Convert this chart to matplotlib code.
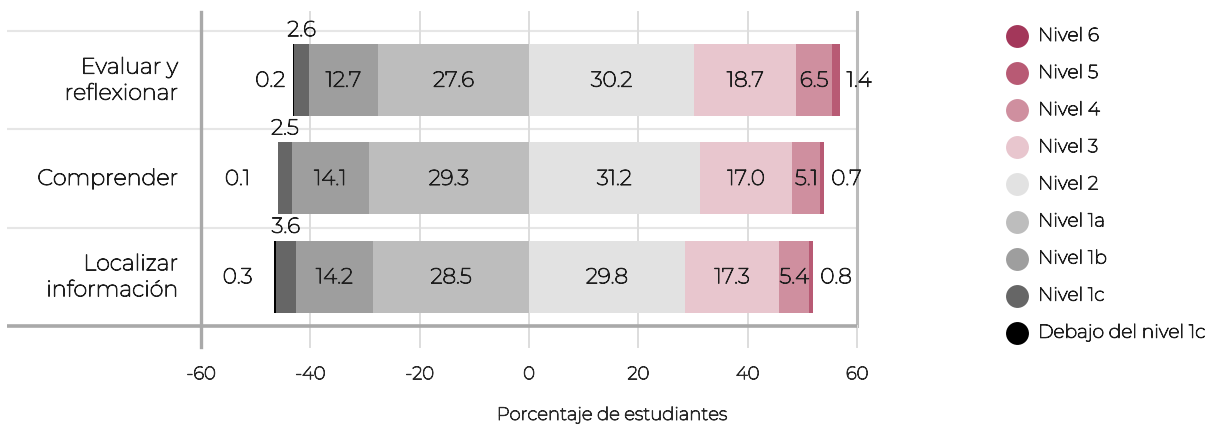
import os
import matplotlib
matplotlib.use("Agg")
import matplotlib.pyplot as plt
from matplotlib import font_manager
import matplotlib.patheffects as pe

# ---------------- data ----------------
categories = ["Evaluar y\nreflexionar", "Comprender", "Localizar\ninformación"]
debajo_1c = [0.2, 0.1, 0.3]
nivel_1c = [2.6, 2.5, 3.6]
nivel_1b = [12.7, 14.1, 14.2]
nivel_1a = [27.6, 29.3, 28.5]
nivel_2 = [30.2, 31.2, 28.5]          # bar length as drawn in the reference
nivel_2_labels = ["30.2", "31.2", "29.8"]  # printed values
nivel_3 = [18.7, 17.0, 17.3]
nivel_4 = [6.5, 5.1, 5.4]
nivel_5 = [1.4, 0.7, 0.8]
nivel_6 = [0.0, 0.0, 0.0]
xticks = [-60, -40, -20, 0, 20, 40, 60]
legend_labels = ["Nivel 6", "Nivel 5", "Nivel 4", "Nivel 3", "Nivel 2",
                 "Nivel 1a", "Nivel 1b", "Nivel 1c", "Debajo del nivel 1c"]

# ---------------- style ----------------
colors = {
    "n6": "#a3375a", "n5": "#b85a74", "n4": "#cf8f9f", "n3": "#e8c6ce",
    "n2": "#e2e2e2", "n1a": "#bdbdbd", "n1b": "#9e9e9e", "n1c": "#666666",
    "d1c": "#000000",
}
legend_colors = [colors[k] for k in ["n6", "n5", "n4", "n3", "n2", "n1a", "n1b", "n1c", "d1c"]]

TXT = "#1e1e1e"
GRY = "#2a2a2a"
entries = [f for f in font_manager.fontManager.ttflist if f.name == "Montserrat"]
regular = [f.fname for f in entries
           if "regular" in os.path.basename(f.fname).lower() and "italic" not in os.path.basename(f.fname).lower()
           and "[" not in os.path.basename(f.fname)]
FP = None
thicken = False
if regular:
    FP = regular[0]
elif entries:
    plt.rcParams["font.family"] = ["Montserrat", "DejaVu Sans"]
    thicken = True
else:
    plt.rcParams["font.family"] = ["DejaVu Sans"]


def tkw(color=TXT):
    kw = {}
    if FP:
        kw["fontproperties"] = font_manager.FontProperties(fname=FP)
    if thicken:
        kw["path_effects"] = [pe.withStroke(linewidth=0.7, foreground=color)]
    return kw


W, H = 1211, 425
fig = plt.figure(figsize=(W / 100, H / 100), dpi=100)
ax_left, ax_right, ax_top, ax_bottom = 7, 857, 10, 326
ax = fig.add_axes([ax_left / W, (H - ax_bottom) / H, (ax_right - ax_left) / W, (ax_bottom - ax_top) / H])

px_per_unit = 656 / 120.0
xmax = 60
xmin = xmax - (ax_right - ax_left) / px_per_unit
band_px = (ax_bottom - 31) / 3.0
ytop = 2.5 - (ax_bottom - ax_top) / band_px
ax.set_xlim(xmin, xmax)
ax.set_ylim(2.5, ytop)
for s in ax.spines.values():
    s.set_visible(False)
ax.set_yticks([])

ypos = list(range(len(categories)))
bh = 72 / band_px
tick_ext = 21 / band_px

# grid lines
for y in [-0.5, 0.5, 1.5]:
    ax.plot([xmin, xmax], [y, y], color="#e6e6e6", lw=1.5, zorder=0, solid_capstyle="butt")
for x in xticks:
    if x == -60:
        ax.plot([x, x], [ytop + 2 / band_px, 2.5 + tick_ext], color="#a9a9a9", lw=2.4, zorder=3, clip_on=False)
    elif x == 60:
        ax.plot([x, x], [ytop + 2 / band_px, 2.5], color="#bbbbbb", lw=2.2, zorder=3, clip_on=False)
        ax.plot([x, x], [2.5, 2.5 + tick_ext], color="#dddddd", lw=1.4, zorder=3, clip_on=False)
    else:
        ax.plot([x, x], [ytop + 2 / band_px, 2.5 + tick_ext], color="#dddddd", lw=1.4, zorder=0, clip_on=False)
ax.plot([xmin, xmax], [2.5, 2.5], color="#a9a9a9", lw=2.6, zorder=3, clip_on=False, solid_capstyle="butt")

# x tick labels
ax.set_xticks(xticks)
ax.set_xticklabels([str(t) for t in xticks], fontsize=13, color=GRY, **tkw(GRY))
ax.tick_params(axis="x", length=0, pad=29)

# ---------------- bars ----------------
left_series = [(nivel_1a, "n1a"), (nivel_1b, "n1b"), (nivel_1c, "n1c"), (debajo_1c, "d1c")]
right_series = [(nivel_2, "n2"), (nivel_3, "n3"), (nivel_4, "n4"), (nivel_5, "n5"), (nivel_6, "n6")]

lab_fs = 15.5
below_gap = [1.5, 5.0, 4.0]   # label gap (units) left of bar for "debajo"

for i, y in enumerate(ypos):
    cum = 0.0
    edges = {}
    for vals, key in left_series:
        v = vals[i]
        ax.barh(y, -v, left=-cum, height=bh, color=colors[key], lw=0, zorder=2)
        edges[key] = (-cum - v, -cum)
        cum += v
    cum = 0.0
    for vals, key in right_series:
        v = vals[i]
        if v > 0:
            ax.barh(y, v, left=cum, height=bh, color=colors[key], lw=0, zorder=2)
        edges[key] = (cum, cum + v)
        cum += v

    for key, txt in [("n1a", f"{nivel_1a[i]:.1f}"), ("n1b", f"{nivel_1b[i]:.1f}"),
                     ("n2", nivel_2_labels[i]), ("n3", f"{nivel_3[i]:.1f}"),
                     ("n4", f"{nivel_4[i]:.1f}")]:
        a, b = edges[key]
        ax.text((a + b) / 2, y, txt, ha="center", va="center", fontsize=lab_fs, color=TXT, zorder=4, **tkw())
    a, b = edges["n1c"]
    ax.text((a + b) / 2, y - bh / 2 - 4 / band_px, f"{nivel_1c[i]:.1f}", ha="center", va="bottom",
            fontsize=lab_fs, color=TXT, zorder=4, **tkw())
    a, b = edges["d1c"]
    ax.text(a - below_gap[i], y, f"{debajo_1c[i]:.1f}", ha="right", va="center",
            fontsize=lab_fs, color=TXT, zorder=4, **tkw())
    a, b = edges["n5"]
    ax.text(b + 1.3, y, f"{nivel_5[i]:.1f}", ha="left", va="center", fontsize=lab_fs, color=TXT,
            zorder=4, **tkw())

    ax.text(xmin + (178 - ax_left) / px_per_unit, y, categories[i], ha="right", va="center",
            fontsize=16, color=TXT, linespacing=1.3, **tkw())

fig.text(612 / W, 1 - 415 / H, "Porcentaje de estudiantes", ha="center", va="center",
         fontsize=13, color=GRY, **tkw(GRY))

# ---------------- legend ----------------
lax = fig.add_axes([0, 0, 1, 1])
lax.set_xlim(0, W)
lax.set_ylim(H, 0)
lax.axis("off")
for j, (lab, c) in enumerate(zip(legend_labels, legend_colors)):
    yy = 36 + j * 37.1
    lax.scatter([1017], [yy], s=16.5 ** 2, color=c, lw=0)
    lax.text(1038, yy, lab, ha="left", va="center", fontsize=13.5, color=TXT, **tkw())

fig.savefig("out.png", dpi=100)
